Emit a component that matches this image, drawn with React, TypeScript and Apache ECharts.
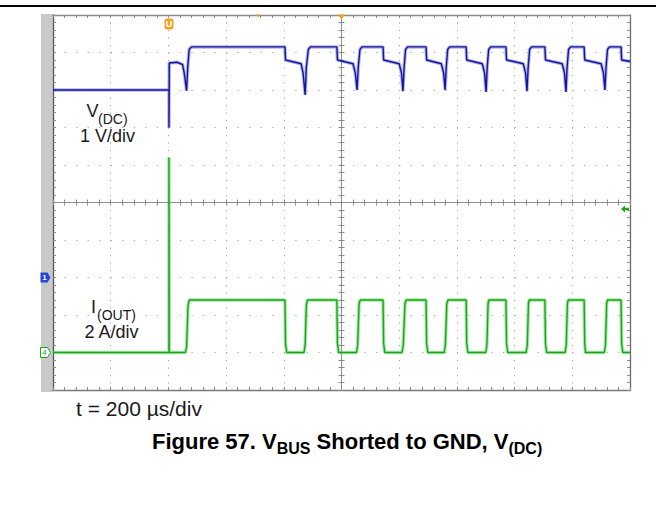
import React, { useEffect, useRef } from 'react';
import * as echarts from 'echarts';

// Time base: 200 µs/div, 10 divisions across the screen (time measured from the left edge, µs)
const TIME_PER_DIV = 200;
const SCREEN_DIVS_X = 10;
const SCREEN_DIVS_Y = 10;
const TRIGGER_TIME = 402;
const TRIGGER_LEVEL_DIV = 4.83;

// Channel 1: V(DC), 1 V/div, ground marker at division 3
const VDC_VOLTS_PER_DIV = 1;
const VDC_GROUND_DIV = 3;
const vdcTime = [
  0, 402, 402, 403, 430, 449, 455, 463, 467, 472, 480,
  804, 806, 860, 867, 874, 878, 885, 892,
  984, 986, 1040, 1048, 1054, 1058, 1064, 1071,
  1144, 1146, 1200, 1208, 1213, 1217, 1222, 1229,
  1293, 1295, 1346, 1354, 1359, 1363, 1368, 1375,
  1432, 1434, 1488, 1496, 1501, 1505, 1510, 1517,
  1570, 1572, 1630, 1638, 1643, 1647, 1652, 1659,
  1705, 1707, 1765, 1773, 1778, 1782, 1787, 1794,
  1841, 1843, 1900, 1908, 1913, 1917, 1922, 1929,
  1969, 1971, 2000,
];
const vdcVolts = [
  5.0, 5.0, 4.0, 5.72, 5.74, 5.68, 5.45, 4.98, 5.6, 6.08, 6.15,
  6.15, 5.8, 5.7, 5.45, 4.87, 5.6, 6.08, 6.15,
  6.15, 5.8, 5.7, 5.45, 5.0, 5.6, 6.08, 6.15,
  6.15, 5.8, 5.7, 5.45, 4.97, 5.6, 6.08, 6.15,
  6.15, 5.8, 5.7, 5.45, 5.0, 5.6, 6.08, 6.15,
  6.15, 5.8, 5.7, 5.45, 4.95, 5.6, 6.08, 6.15,
  6.15, 5.8, 5.7, 5.45, 4.97, 5.6, 6.08, 6.15,
  6.15, 5.8, 5.7, 5.45, 4.95, 5.6, 6.08, 6.15,
  6.15, 5.8, 5.7, 5.45, 5.0, 5.6, 6.08, 6.15,
  6.15, 5.8, 5.76,
];

// Channel 4: I(OUT), 2 A/div, ground marker at division 1
const IOUT_AMPS_PER_DIV = 2;
const IOUT_GROUND_DIV = 1;
const ioutTime = [
  0, 402, 402, 403, 459, 463, 468, 472,
  804, 806, 810, 870, 874, 878, 882,
  984, 986, 990, 1052, 1056, 1061, 1065,
  1144, 1146, 1150, 1210, 1214, 1220, 1224,
  1293, 1295, 1299, 1356, 1360, 1365, 1369,
  1432, 1434, 1438, 1500, 1504, 1508, 1511,
  1570, 1572, 1576, 1640, 1644, 1648, 1651,
  1705, 1707, 1711, 1775, 1779, 1783, 1786,
  1841, 1843, 1846, 1911, 1915, 1919, 1922,
  1969, 1971, 1975, 2000,
];
const ioutAmps = [
  0, 0, 10.4, 0, 0, 0.3, 2.5, 2.8,
  2.8, 0.5, 0, 0, 0.4, 2.5, 2.8,
  2.8, 0.5, 0, 0, 0.4, 2.6, 2.8,
  2.8, 0.5, 0, 0, 0.4, 2.6, 2.8,
  2.8, 0.5, 0, 0, 0.4, 2.6, 2.8,
  2.8, 0.5, 0, 0, 0.4, 2.6, 2.8,
  2.8, 0.5, 0, 0, 0.4, 2.6, 2.8,
  2.8, 0.5, 0, 0, 0.4, 2.6, 2.8,
  2.8, 0.5, 0, 0, 0.4, 2.6, 2.8,
  2.8, 0.5, 0, 0,
];

const FONT = '"Liberation Sans", Arial, Helvetica, sans-serif';
const TEXT_COLOR = '#1a1a1a';
const BLUE = '#14149c';
const GREEN = '#1aa61a';
const ORANGE = '#f2a11c';

const App: React.FC = () => {
  const ref = useRef<HTMLDivElement>(null);

  useEffect(() => {
    if (!ref.current) return;
    const chart = echarts.init(ref.current, undefined, { renderer: 'svg' });

    const vdcData = vdcTime.map((t, i) => [t, vdcVolts[i] / VDC_VOLTS_PER_DIV + VDC_GROUND_DIV]);
    const ioutData = ioutTime.map((t, i) => [t, ioutAmps[i] / IOUT_AMPS_PER_DIV + IOUT_GROUND_DIV]);

    const xMax = TIME_PER_DIV * SCREEN_DIVS_X;
    const gridW = 577;
    const gridH = 375;

    const tickStyle = { color: '#8a8a8a', width: 1 };
    const baseX = {
      type: 'value' as const,
      min: 0,
      max: xMax,
      interval: TIME_PER_DIV,
      axisLabel: { show: false },
      splitLine: { show: false },
    };
    const baseY = {
      type: 'value' as const,
      min: 0,
      max: SCREEN_DIVS_Y,
      interval: 1,
      axisLabel: { show: false },
      splitLine: { show: false },
    };
    const border = (color: string, width: number) => ({
      show: true,
      onZero: false,
      lineStyle: { color, width },
    });
    const ticks = (len: number) => ({
      axisTick: { show: true, inside: true, length: len, lineStyle: tickStyle },
      minorTick: { show: true, splitNumber: 5, length: len, lineStyle: tickStyle },
    });
    const plainText = (text: string, x: number, y: number, size: number) => ({
      type: 'text',
      x,
      y,
      z: 10,
      silent: true,
      style: { text, fontSize: size, fontFamily: FONT, fill: TEXT_COLOR, textVerticalAlign: 'middle' },
    });

    const option: any = {
      animation: false,
      backgroundColor: '#ffffff',
      grid: {
        left: 53,
        top: 15,
        width: gridW,
        height: gridH,
        containLabel: false,
        outerBoundsMode: 'none',
      },
      xAxis: [
        {
          ...baseX,
          position: 'bottom',
          axisLine: border('#7a7a7a', 1.3),
          ...ticks(3),
          splitLine: { show: true, lineStyle: { color: '#a5a5a5', width: 1, type: [1.2, 6.3] } },
        },
        { ...baseX, position: 'top', axisLine: border('#8a8a8a', 1.3), ...ticks(3) },
        { ...baseX, position: 'bottom', offset: -gridH / 2, axisLine: border('#8f8f8f', 1), ...ticks(3) },
        { ...baseX, position: 'top', offset: -gridH / 2, axisLine: { show: false, onZero: false }, ...ticks(3) },
      ],
      yAxis: [
        {
          ...baseY,
          position: 'left',
          axisLine: border('#555555', 1.3),
          ...ticks(3),
          splitLine: { show: true, lineStyle: { color: '#a5a5a5', width: 1, type: [1.2, 10.34] } },
        },
        { ...baseY, position: 'right', axisLine: border('#6a6a6a', 1.3), ...ticks(3) },
        { ...baseY, position: 'left', offset: -gridW / 2, axisLine: border('#8f8f8f', 1), ...ticks(3) },
        { ...baseY, position: 'right', offset: -gridW / 2, axisLine: { show: false, onZero: false }, ...ticks(3) },
      ],
      series: [
        {
          type: 'line',
          name: 'I(OUT) halo',
          data: ioutData,
          showSymbol: false,
          symbol: 'none',
          silent: true,
          lineStyle: { color: 'rgba(80,210,80,0.5)', width: 3.5 },
          z: 3,
        },
        {
          type: 'line',
          name: 'I(OUT)',
          data: ioutData,
          showSymbol: false,
          symbol: 'none',
          silent: true,
          lineStyle: { color: GREEN, width: 1.4 },
          z: 4,
          markPoint: {
            silent: true,
            data: [
              {
                coord: [0, IOUT_GROUND_DIV],
                symbol: 'path://M0,0 L7,0 L10,5 L7,10 L0,10 Z',
                symbolSize: [10, 10],
                symbolOffset: [-7.5, 0],
                itemStyle: { color: '#ffffff', borderColor: GREEN, borderWidth: 1 },
                label: { show: true, formatter: '4', color: GREEN, fontSize: 8, fontFamily: FONT, offset: [-1, 0] },
              },
              {
                coord: [xMax, TRIGGER_LEVEL_DIV],
                symbol: 'path://M0,5 L5,0 L5,3.5 L10,3.5 L10,6.5 L5,6.5 L5,10 Z',
                symbolSize: [8, 7],
                symbolOffset: [-5, 0],
                itemStyle: { color: GREEN },
                label: { show: false },
              },
            ],
          },
        },
        {
          type: 'line',
          name: 'V(DC) halo',
          data: vdcData,
          showSymbol: false,
          symbol: 'none',
          silent: true,
          lineStyle: { color: 'rgba(90,90,205,0.45)', width: 3.5 },
          z: 5,
        },
        {
          type: 'line',
          name: 'V(DC)',
          data: vdcData,
          showSymbol: false,
          symbol: 'none',
          silent: true,
          lineStyle: { color: BLUE, width: 1.4 },
          z: 6,
          markPoint: {
            silent: true,
            data: [
              {
                coord: [0, VDC_GROUND_DIV],
                symbol: 'path://M0,0 L7,0 L10,5 L7,10 L0,10 Z',
                symbolSize: [10, 10],
                symbolOffset: [-7.5, 0],
                itemStyle: { color: '#2246e0' },
                label: { show: true, formatter: '1', color: '#ffffff', fontSize: 8, fontWeight: 'bold', fontFamily: FONT, offset: [-1, 0] },
              },
              {
                coord: [TRIGGER_TIME, SCREEN_DIVS_Y],
                symbol: 'roundRect',
                symbolSize: [9, 11],
                symbolOffset: [0, 9],
                itemStyle: { color: ORANGE },
                label: { show: true, formatter: 'U', color: '#ffffff', fontSize: 9, fontWeight: 'bold', fontFamily: FONT },
              },
              {
                coord: [xMax / 2, SCREEN_DIVS_Y],
                symbol: 'triangle',
                symbolRotate: 180,
                symbolSize: [7, 5],
                symbolOffset: [0, 2],
                itemStyle: { color: ORANGE },
                label: { show: false },
              },
              {
                coord: [711, SCREEN_DIVS_Y],
                symbol: 'triangle',
                symbolRotate: 180,
                symbolSize: [4, 3],
                symbolOffset: [0, 1],
                itemStyle: { color: ORANGE },
                label: { show: false },
              },
            ],
          },
        },
      ],
      graphic: [
        {
          type: 'line',
          shape: { x1: 0, y1: 6, x2: 656, y2: 6 },
          style: { stroke: '#000000', lineWidth: 2 },
          silent: true,
        },
        {
          type: 'rect',
          shape: { x: 41, y: 14, width: 12, height: 378 },
          style: { fill: '#c9c9c9' },
          silent: true,
          z: 0,
        },
        plainText('V', 86.5, 111, 18),
        plainText('(DC)', 98, 118.5, 14),
        plainText('1 V/div', 80, 135.5, 18),
        plainText('I', 91, 307, 18),
        plainText('(OUT)', 97, 315, 14),
        plainText('2 A/div', 84.5, 332, 18),
        plainText('t = 200 µs/div', 76, 408, 21),
        {
          type: 'text',
          x: 152,
          y: 426,
          z: 10,
          silent: true,
          style: {
            text: '{m|Figure 57. V}{s|BUS}{m| Shorted to GND, V}{s|(DC)}',
            textVerticalAlign: 'top',
            rich: {
              m: { fontSize: 22, fontWeight: 'bold', fontFamily: FONT, color: TEXT_COLOR, lineHeight: 30, verticalAlign: 'middle' },
              s: { fontSize: 16, fontWeight: 'bold', fontFamily: FONT, color: TEXT_COLOR, lineHeight: 16, verticalAlign: 'bottom' },
            },
          },
        },
      ],
    };

    chart.setOption(option);
    return () => {
      chart.dispose();
    };
  }, []);

  return (
    <div
      ref={ref}
      style={{ position: 'fixed', left: 0, top: 0, width: 658, height: 505, background: '#ffffff' }}
    />
  );
};

export default App;
